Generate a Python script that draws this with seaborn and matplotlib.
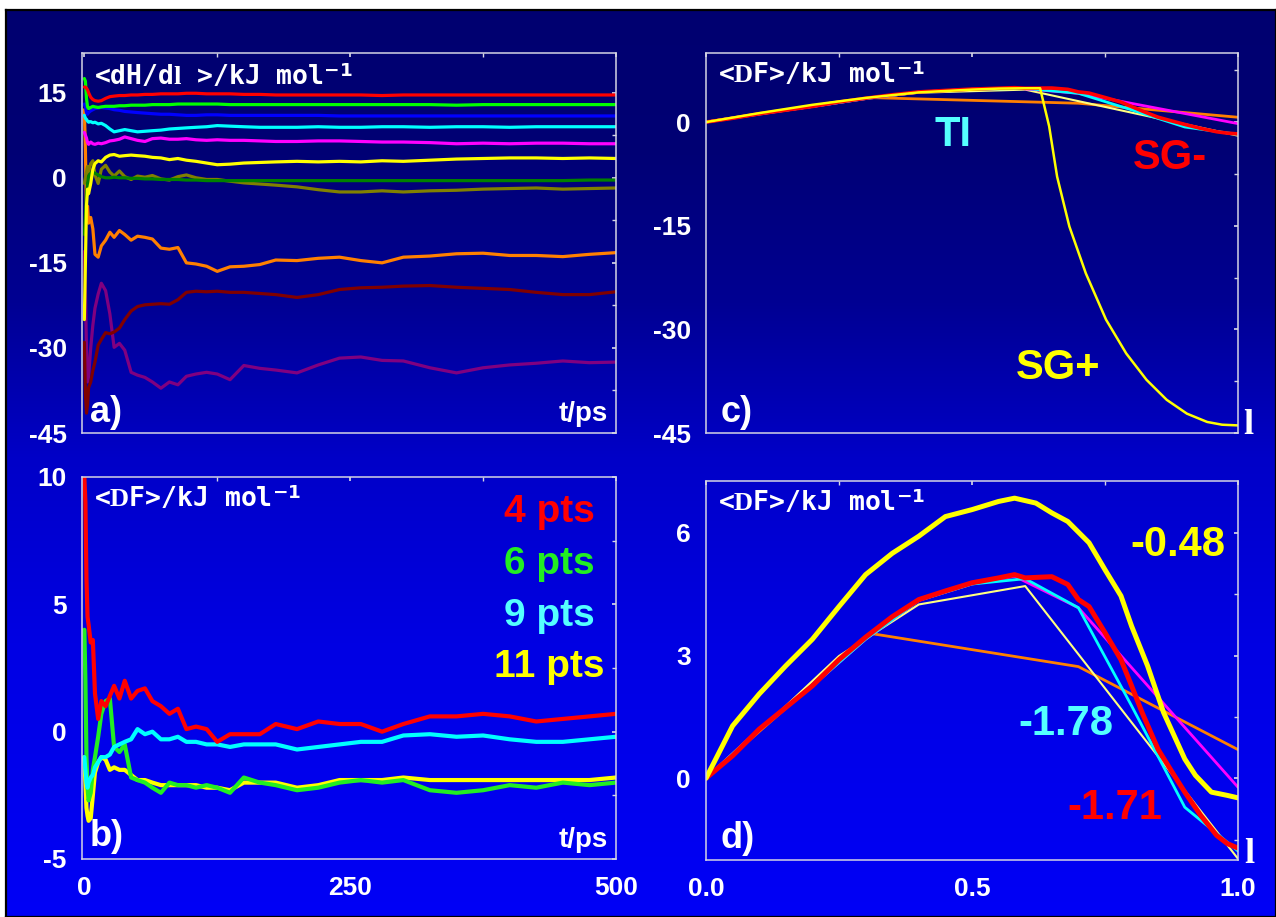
import numpy as np
import matplotlib
matplotlib.use("Agg")
import matplotlib.pyplot as plt
import seaborn as sns

# ---------------- data ----------------
T = [0, 1, 2, 3, 4, 6, 8, 10, 13, 16, 20, 24, 28, 33, 38, 44, 50, 57, 64, 72, 80, 88,
     96, 105, 115, 125, 137, 150, 165, 180, 200, 220, 240, 260, 280, 300, 325, 350,
     375, 400, 425, 450, 475, 500]

# panel a: <dH/dl> running averages for 11 windows
A_RED = [16.0, 16.0, 15.8, 15.5, 15.0, 14.2, 13.8, 13.6, 13.5, 13.6, 14.0, 14.3, 14.4, 14.5, 14.5,
         14.6, 14.6, 14.7, 14.7, 14.8, 14.8, 14.8, 14.9, 14.9, 14.8, 14.8, 14.8, 14.7, 14.7, 14.6,
         14.6, 14.6, 14.6, 14.6, 14.5, 14.6, 14.6, 14.6, 14.6, 14.6, 14.6, 14.6, 14.6, 14.6]
A_GREEN = [17.5, 17.0, 14.0, 12.5, 12.2, 12.4, 12.6, 12.5, 12.4, 12.5, 12.6, 12.6, 12.6, 12.7, 12.7,
           12.8, 12.8, 12.8, 12.9, 12.9, 12.9, 13.0, 13.0, 13.0, 13.0, 13.0, 12.9, 12.9, 12.9, 12.9,
           12.9, 12.9, 12.9, 12.9, 12.9, 12.9, 12.9, 12.8, 12.9, 12.9, 12.9, 12.9, 12.9, 12.9]
A_BLUE = [13.0, 12.5, 11.5, 11.2, 11.5, 11.8, 12.0, 12.2, 12.3, 12.4, 12.3, 12.2, 12.0, 11.9, 11.7,
          11.6, 11.5, 11.4, 11.3, 11.2, 11.2, 11.1, 11.0, 11.0, 11.1, 11.1, 11.0, 11.0, 11.0, 11.0,
          11.0, 11.0, 10.9, 10.9, 10.9, 10.9, 10.9, 10.9, 10.9, 10.9, 10.9, 10.9, 10.9, 10.9]
A_CYAN = [11.0, 10.5, 10.3, 10.0, 9.8, 9.9, 9.7, 9.8, 9.5, 9.6, 9.2, 8.6, 8.1, 8.3, 8.5,
          8.3, 8.1, 8.2, 8.3, 8.4, 8.6, 8.7, 8.8, 8.9, 9.0, 9.2, 9.1, 9.0, 8.9, 8.9,
          8.9, 9.0, 8.9, 8.9, 9.0, 9.0, 8.9, 9.0, 9.0, 8.9, 9.0, 9.0, 9.0, 9.0]
A_MAGENTA = [8.0, 7.5, 7.0, 6.2, 5.9, 6.3, 6.0, 5.9, 6.1, 6.0, 6.2, 6.5, 6.6, 6.8, 7.2,
             6.9, 6.6, 6.4, 6.9, 7.0, 6.8, 6.8, 6.9, 6.7, 6.6, 6.7, 6.6, 6.6, 6.5, 6.4,
             6.4, 6.5, 6.5, 6.4, 6.3, 6.3, 6.2, 6.0, 6.1, 6.0, 6.1, 6.1, 6.0, 6.0]
A_YELLOW = [-25.0, -15.0, -5.0, -2.0, -2.8, -1.0, 1.5, 2.5, 3.0, 2.8, 3.6, 4.0, 4.1, 3.8, 3.9,
            4.0, 3.9, 3.8, 3.6, 3.5, 3.2, 3.4, 3.1, 2.9, 2.6, 2.3, 2.4, 2.6, 2.7, 2.8,
            2.9, 2.8, 2.9, 2.8, 3.0, 2.9, 3.1, 3.3, 3.4, 3.5, 3.5, 3.4, 3.5, 3.4]
A_DKGREEN = [-10.0, -7.0, -3.0, -1.0, 0.3, 0.8, 1.0, 0.8, 0.5, 0.2, 0.0, 0.0, 0.1, 0.0, 0.0,
             -0.1, -0.1, -0.2, -0.2, -0.3, -0.3, -0.3, -0.4, -0.4, -0.5, -0.5, -0.5, -0.5, -0.5, -0.5,
             -0.5, -0.5, -0.5, -0.5, -0.5, -0.5, -0.5, -0.5, -0.5, -0.5, -0.5, -0.5, -0.4, -0.4]
A_OLIVE = [-1.0, 0.0, 1.0, 2.0, 1.0, 2.5, 3.0, 0.5, -1.0, 1.5, 2.2, 1.0, 0.3, 1.2, 0.2,
           -0.3, 0.3, 0.1, 0.4, -0.2, -0.4, 0.2, 0.5, 0.0, -0.3, -0.3, -0.6, -0.9, -1.1, -1.3,
           -1.6, -2.1, -2.5, -2.5, -2.3, -2.5, -2.3, -2.2, -2.0, -1.9, -1.8, -2.0, -1.9, -1.8]
A_ORANGE = [12.0, 5.0, -6.0, -5.0, -8.0, -7.0, -9.0, -13.5, -14.0, -12.0, -11.0, -9.6, -10.5, -9.3, -10.0,
            -11.0, -10.3, -10.5, -10.8, -12.4, -12.6, -12.3, -15.0, -15.2, -15.6, -16.5, -15.7, -15.6, -15.3, -14.5,
            -14.6, -14.2, -14.0, -14.6, -15.0, -14.0, -13.8, -13.4, -13.3, -13.7, -13.7, -13.9, -13.5, -13.2]
A_DKRED = [-29.0, -38.0, -41.5, -40.0, -37.0, -36.0, -34.0, -32.5, -29.5, -28.5, -27.3, -27.5, -27.2, -26.5, -25.0,
           -23.5, -22.7, -22.4, -22.3, -22.2, -22.3, -21.5, -20.2, -20.0, -20.1, -20.0, -20.2, -20.2, -20.4, -20.6,
           -21.1, -20.6, -19.7, -19.4, -19.3, -19.1, -19.0, -19.3, -19.5, -19.7, -20.2, -20.6, -20.6, -20.1]
A_PURPLE = [-13.0, -20.0, -30.0, -36.0, -35.0, -30.0, -26.0, -23.0, -20.5, -18.6, -19.9, -24.0, -29.9, -29.2, -30.4,
            -34.3, -34.8, -35.2, -36.0, -37.1, -36.0, -36.5, -35.0, -34.6, -34.3, -34.6, -35.6, -33.1, -33.6, -33.9,
            -34.4, -33.0, -31.8, -31.6, -32.2, -32.3, -33.5, -34.4, -33.5, -33.0, -32.7, -32.3, -32.6, -32.5]

# panel b: <DF> convergence with number of points
B_4PTS = [10.0, 9.0, 6.0, 4.5, 4.2, 3.5, 3.6, 1.5, 0.5, 1.2, 1.0, 1.4, 1.8, 1.3, 2.0,
          1.3, 1.6, 1.7, 1.2, 1.0, 0.7, 0.9, 0.1, 0.2, 0.1, -0.4, -0.1, -0.1, -0.1, 0.3,
          0.1, 0.4, 0.3, 0.3, 0.0, 0.3, 0.6, 0.6, 0.7, 0.6, 0.4, 0.5, 0.6, 0.7]
B_9PTS = [-1.0, -1.5, -2.0, -2.2, -2.0, -1.8, -1.7, -1.4, -1.2, -1.0, -1.0, -0.9, -0.6, -0.5, -0.4,
          -0.3, 0.1, -0.1, 0.0, -0.3, -0.3, -0.2, -0.4, -0.4, -0.5, -0.5, -0.6, -0.5, -0.5, -0.5,
          -0.7, -0.6, -0.5, -0.4, -0.4, -0.15, -0.1, -0.2, -0.15, -0.3, -0.4, -0.4, -0.3, -0.2]
B_6PTS = [4.0, 2.0, -1.0, -2.2, -2.7, -2.4, -1.5, -1.0, -0.2, 0.7, 1.2, 1.3, -0.6, -0.8, -0.5,
          -1.8, -1.9, -2.0, -2.2, -2.4, -2.0, -2.1, -2.1, -2.2, -2.1, -2.2, -2.4, -1.8, -2.0, -2.1,
          -2.3, -2.2, -2.0, -1.9, -2.0, -1.9, -2.3, -2.4, -2.3, -2.1, -2.2, -2.0, -2.1, -2.0]
B_11PTS = [-1.0, -2.0, -3.0, -3.3, -3.5, -3.4, -2.5, -1.6, -1.2, -1.0, -1.1, -1.5, -1.4, -1.5, -1.5,
           -1.7, -1.9, -1.9, -2.0, -2.1, -2.1, -2.1, -2.1, -2.1, -2.2, -2.2, -2.3, -2.0, -2.0, -2.0,
           -2.2, -2.1, -1.9, -1.9, -1.9, -1.8, -1.9, -1.9, -1.9, -1.9, -1.9, -1.9, -1.9, -1.8]

# panels c, d: <DF> versus lambda
LAM_4 = [0.0, 0.31, 0.70, 1.0]
DF_4 = [0.0, 3.54, 2.73, 0.70]
LAM_6 = [0.0, 0.12, 0.25, 0.40, 0.60, 1.0]
DF_6 = [0.0, 1.4, 2.99, 4.25, 4.7, -1.97]
LAM_9 = [0.0, 0.1, 0.2, 0.3, 0.4, 0.5, 0.58, 0.70, 1.0]
DF_9 = [0.0, 1.2, 2.26, 3.4, 4.35, 4.75, 4.94, 4.17, -0.22]
LAM_11 = [0.0, 0.1, 0.2, 0.3, 0.4, 0.5, 0.6, 0.7, 0.8, 0.9, 1.0]
DF_11 = [0.0, 1.2, 2.26, 3.4, 4.35, 4.75, 4.88, 4.17, 1.77, -0.71, -1.78]
LAM_SGM = [0.0, 0.05, 0.1, 0.15, 0.2, 0.25, 0.3, 0.35, 0.4, 0.45, 0.5, 0.55, 0.58, 0.6, 0.65,
           0.68, 0.7, 0.72, 0.75, 0.78, 0.8, 0.82, 0.85, 0.88, 0.9, 0.93, 0.96, 0.98, 1.0]
DF_SGM = [0.0, 0.55, 1.2, 1.73, 2.26, 2.9, 3.45, 3.95, 4.37, 4.58, 4.78, 4.9, 4.98, 4.9, 4.93,
          4.74, 4.37, 4.2, 3.56, 2.9, 2.26, 1.6, 0.7, 0.07, -0.34, -0.91, -1.4, -1.6, -1.71]
LAM_SGP_D = [0.0, 0.05, 0.1, 0.15, 0.2, 0.25, 0.3, 0.35, 0.4, 0.45, 0.5, 0.55, 0.58, 0.62,
             0.65, 0.68, 0.72, 0.75, 0.78, 0.8, 0.83, 0.86, 0.88, 0.9, 0.92, 0.95, 0.98, 1.0]
DF_SGP_D = [0.0, 1.28, 2.06, 2.75, 3.4, 4.2, 4.98, 5.5, 5.92, 6.4, 6.57, 6.77, 6.85, 6.73,
            6.49, 6.28, 5.76, 5.1, 4.46, 3.72, 2.75, 1.61, 1.04, 0.47, 0.07, -0.34, -0.42, -0.48]
LAM_SGP_C = [0.0, 0.1, 0.2, 0.3, 0.4, 0.5, 0.55, 0.6, 0.628, 0.645, 0.66, 0.683, 0.714, 0.752,
             0.79, 0.828, 0.866, 0.904, 0.942, 0.97, 1.0]
DF_SGP_C = [0.0, 1.3, 2.5, 3.5, 4.3, 4.7, 4.85, 4.9, 4.9, -0.6, -7.9, -15.1, -21.9, -28.6,
            -33.5, -37.3, -40.2, -42.2, -43.4, -43.8, -43.9]

A_TICKS = [15, 0, -15, -30, -45]
B_TICKS = [10, 5, 0, -5]
C_TICKS = [0, -15, -30, -45]
D_TICKS = [0, 3, 6]
T_TICKS = [0, 250, 500]
L_TICKS = [0.0, 0.5, 1.0]

# ---------------- style ----------------
sns.set_theme(style="dark")
plt.rcParams.update({
    "font.family": ["Liberation Sans", "DejaVu Sans"],
    "font.weight": "bold",
    "axes.unicode_minus": False,
    "mathtext.fontset": "custom",
    "mathtext.rm": "Liberation Serif",
    "mathtext.it": "Liberation Serif:italic",
    "mathtext.bf": "DejaVu Sans:bold",
    "axes.grid": False,
})

W, H = 1276, 917
fig = plt.figure(figsize=(W / 100, H / 100), dpi=100)
fig.patch.set_facecolor("white")

# gradient background
bg = fig.add_axes([6 / W, 0, 1 - 6 / W, 1 - 10 / H], zorder=-5)
rows = np.arange(10, H + 1)
blue = np.interp(rows, [10, 150, 300, 460, 650, 917], [0x70, 0x74, 0x92, 0xc8, 0xe4, 0xf6]) / 255
img = np.zeros((len(rows), 1, 3))
img[:, 0, 2] = blue
bg.imshow(img, aspect="auto", extent=[0, 1, 0, 1], interpolation="bilinear")
bg.set_xticks([])
bg.set_yticks([])
for s in bg.spines.values():
    s.set_color("black")
    s.set_linewidth(1.6)

SPINE = "#d4d4e4"


def make_axes(rect, xlim, ylim, xmaj, xmin, ymaj, ymin, xlabels, xfmt=None):
    ax = fig.add_axes(rect)
    ax.set_facecolor("none")
    ax.grid(False)
    ax.set_xlim(xlim)
    ax.set_ylim(ylim)
    ax.set_xticks(xmaj)
    ax.set_xticks(xmin, minor=True)
    ax.set_yticks(ymaj)
    ax.set_yticks(ymin, minor=True)
    ax.set_yticklabels([str(v) for v in ymaj])
    if xlabels:
        ax.set_xticklabels([xfmt.format(v) for v in xmaj])
    else:
        ax.set_xticklabels([])
    for s in ax.spines.values():
        s.set_visible(True)
        s.set_color(SPINE)
        s.set_linewidth(1.1)
    ax.tick_params(axis="x", which="major", direction="out", length=6, width=1.1,
                   color=SPINE, labelcolor="white", labelsize=19, pad=6)
    ax.tick_params(axis="x", which="minor", direction="in", length=2, width=1.0, color=SPINE)
    ax.tick_params(axis="y", which="major", direction="out", length=4, width=1.1,
                   color=SPINE, labelcolor="white", labelsize=19, pad=7)
    ax.tick_params(axis="y", which="minor", direction="out", length=4, width=1.0, color=SPINE)
    for lab in ax.get_xticklabels() + ax.get_yticklabels():
        lab.set_fontweight("bold")
    sx = ax.secondary_xaxis("top")
    sx.set_xticks(xmaj)
    sx.set_xticks(xmin, minor=True)
    sx.tick_params(which="both", direction="in", length=3, color=SPINE, labeltop=False)
    sx.spines["top"].set_visible(False)
    sy = ax.secondary_yaxis("right")
    sy.set_yticks(ymaj)
    sy.set_yticks(ymin, minor=True)
    sy.tick_params(which="both", direction="in", length=3, color=SPINE, labelright=False)
    sy.spines["right"].set_visible(False)
    return ax


def line(ax, x, y, color, lw):
    sns.lineplot(x=x, y=y, ax=ax, color=color, linewidth=lw, estimator=None,
                 sort=False, legend=False)


def title(ax, txt, y):
    ax.text(0.022, y, txt, transform=ax.transAxes, ha="left", va="center",
            color="white", fontsize=19, fontweight="bold", family=["DejaVu Sans Mono"])


def label(ax, x, y, txt, color, size, ha="left", family=None):
    kw = {}
    if family is not None:
        kw["family"] = family
    ax.text(x, y, txt, transform=ax.transAxes, ha=ha, va="center", color=color,
            fontsize=size, fontweight="bold", clip_on=False, **kw)


# ---------------- panel a ----------------
axa = make_axes([82 / W, (H - 433) / H, 534 / W, 380 / H], (-2.2, 500), (-45, 22),
                T_TICKS, [125, 375], A_TICKS, [7.5, -7.5, -22.5, -37.5], False)
series_a = [
    (A_PURPLE, "#800080"), (A_DKRED, "#800000"), (A_ORANGE, "#ff8000"),
    (A_OLIVE, "#808000"), (A_DKGREEN, "#008000"), (A_YELLOW, "#ffff00"),
    (A_MAGENTA, "#ff00ff"), (A_CYAN, "#00ffff"), (A_BLUE, "#0000ff"),
    (A_GREEN, "#00ff00"), (A_RED, "#ff0000"),
]
for vals, col in series_a:
    line(axa, T, vals, col, 2.3)
title(axa, r"<dH/d$\mathrm{l}$ >/kJ mol$^{\mathbf{-1}}$", 0.937)
label(axa, 0.015, 0.055, "a)", "white", 26)
label(axa, 0.985, 0.05, "t/ps", "white", 20, ha="right")

# ---------------- panel b ----------------
axb = make_axes([82 / W, (H - 859) / H, 534 / W, 382 / H], (-2.2, 500), (-5, 10),
                T_TICKS, [125, 375], B_TICKS, [7.5, 2.5, -2.5], True, "{:d}")
line(axb, T, B_11PTS, "#ffff00", 3.0)
line(axb, T, B_6PTS, "#22ee22", 3.0)
line(axb, T, B_9PTS, "#00ffff", 3.0)
line(axb, T, B_4PTS, "#ff0000", 3.0)
title(axb, r"<$\mathrm{D}$F>/kJ mol$^{\mathbf{-1}}$", 0.942)
label(axb, 0.015, 0.06, "b)", "white", 26)
label(axb, 0.985, 0.05, "t/ps", "white", 20, ha="right")
label(axb, 0.8745, 0.908, "4 pts", "#ff0000", 28, ha="center")
label(axb, 0.8745, 0.772, "6 pts", "#22ee22", 28, ha="center")
label(axb, 0.8745, 0.636, "9 pts", "#55ffff", 28, ha="center")
label(axb, 0.8745, 0.503, "11 pts", "#ffff00", 28, ha="center")

# ---------------- panel c ----------------
axc = make_axes([706 / W, (H - 433) / H, 532 / W, 380 / H], (0, 1), (-45, 10),
                L_TICKS, [0.25, 0.75], C_TICKS, [7.5, -7.5, -22.5, -37.5], False)
line(axc, LAM_4, DF_4, "#ff8000", 2.0)
line(axc, LAM_6, DF_6, "#ffff80", 1.5)
line(axc, LAM_9, DF_9, "#ff00ff", 2.0)
line(axc, LAM_11, DF_11, "#00ffff", 2.0)
line(axc, LAM_SGM, DF_SGM, "#ff0000", 2.6)
line(axc, LAM_SGP_C, DF_SGP_C, "#ffff00", 1.8)
title(axc, r"<$\mathrm{D}$F>/kJ mol$^{\mathbf{-1}}$", 0.942)
label(axc, 0.028, 0.055, "c)", "white", 26)
label(axc, 0.464, 0.784, "TI", "#55ffff", 30, ha="center")
label(axc, 0.872, 0.724, "SG-", "#ff0000", 30, ha="center")
label(axc, 0.662, 0.171, "SG+", "#ffff00", 30, ha="center")
label(axc, 1.019, 0.02, "l", "white", 26, ha="center", family=["Liberation Serif"])

# ---------------- panel d ----------------
axd = make_axes([706 / W, (H - 860) / H, 532 / W, 379 / H], (0, 1), (-2.0, 7.27),
                L_TICKS, [0.25, 0.75], D_TICKS, [-1.5, 1.5, 4.5], True, "{:.1f}")
line(axd, LAM_4, DF_4, "#ff8000", 2.0)
line(axd, LAM_6, DF_6, "#ffff80", 1.5)
line(axd, LAM_9, DF_9, "#ff00ff", 2.0)
line(axd, LAM_11, DF_11, "#00ffff", 2.0)
line(axd, LAM_SGM, DF_SGM, "#ff0000", 3.6)
line(axd, LAM_SGP_D, DF_SGP_D, "#ffff00", 3.6)
title(axd, r"<$\mathrm{D}$F>/kJ mol$^{\mathbf{-1}}$", 0.942)
label(axd, 0.028, 0.058, "d)", "white", 26)
label(axd, 0.887, 0.831, "-0.48", "#ffff00", 30, ha="center")
label(axd, 0.677, 0.359, "-1.78", "#55ffff", 30, ha="center")
label(axd, 0.769, 0.137, "-1.71", "#ff0000", 30, ha="center")
label(axd, 1.021, 0.015, "l", "white", 26, ha="center", family=["Liberation Serif"])

fig.savefig("out.png", dpi=100, facecolor=fig.get_facecolor())
